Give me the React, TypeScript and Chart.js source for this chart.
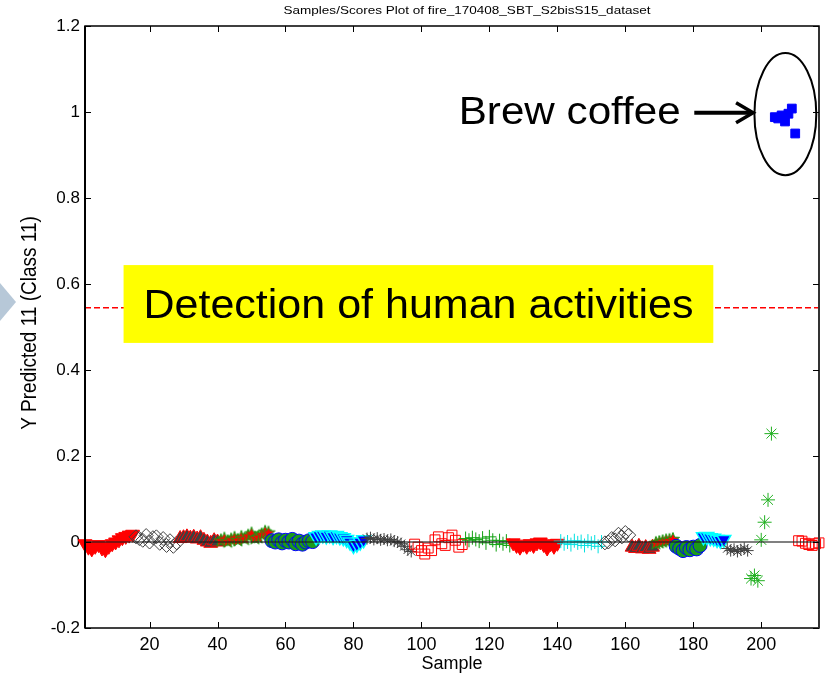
import React, { useEffect, useRef } from 'react';
import { Chart, registerables } from 'chart.js';

Chart.register(...registerables);

// ---------- text ----------
const TITLE = 'Samples/Scores Plot of fire_170408_SBT_S2bisS15_dataset';
const X_LABEL = 'Sample';
const Y_LABEL = 'Y Predicted 11 (Class 11)';
const BOX_TEXT = 'Detection of human activities';
const COFFEE_TEXT = 'Brew coffee';

// ---------- axes ----------
const X_MIN = 1;
const X_MAX = 217;
const Y_MIN = -0.2;
const Y_MAX = 1.2;
const X_TICKS = [20, 40, 60, 80, 100, 120, 140, 160, 180, 200];
const Y_TICKS = [-0.2, 0, 0.2, 0.4, 0.6, 0.8, 1, 1.2];
const THRESHOLD = 0.545;

// ---------- data: first sample of each class block ----------
const GROUP_STARTS = [1, 16, 29, 41, 56, 69, 84, 98, 113, 127, 141, 154, 162, 169, 175, 183, 190, 197, 204, 211];

// ---------- data: Y predicted values per block ----------
const g01 = [-0.004, -0.012, -0.016, -0.01, -0.006, -0.014, -0.018, -0.01, -0.004, 0.0, 0.005, 0.01, 0.013, 0.016, 0.018];
const g02 = [0.012, 0.008, 0.004, 0.015, 0.0, 0.01, 0.012, -0.003, 0.008, -0.008, 0.003, -0.01, -0.002];
const g03 = [0.008, 0.01, 0.012, 0.009, 0.011, 0.007, 0.01, 0.004, 0.0, -0.003, 0.003, 0.0];
const g04 = [0.004, 0.008, 0.002, 0.006, 0.01, 0.005, 0.012, 0.008, 0.015, 0.02, 0.01, 0.012, 0.018, 0.024, 0.022];
const g05 = [0.003, 0.0, 0.005, -0.002, 0.004, 0.0, 0.006, -0.004, 0.002, -0.005, 0.0, 0.003, 0.001];
const g06 = [0.012, 0.015, 0.016, 0.014, 0.016, 0.013, 0.015, 0.012, 0.01, 0.006, 0.0, -0.008, -0.005, 0.0, 0.005];
const g07 = [0.008, 0.01, 0.006, 0.009, 0.005, 0.007, 0.004, 0.006, 0.002, 0.0, -0.004, -0.01, -0.018, -0.022];
const g08 = [-0.005, -0.012, -0.02, -0.028, -0.014, -0.02, 0.005, 0.012, -0.004, -0.008, 0.01, 0.016, 0.004, -0.012, -0.006];
const g09 = [0.008, 0.004, 0.01, 0.006, 0.002, 0.009, -0.002, 0.012, 0.004, -0.006, 0.003, -0.004, 0.002, -0.008];
const g10 = [-0.002, -0.008, -0.012, -0.005, -0.01, -0.004, -0.008, -0.002, 0.0, -0.006, -0.014, -0.004, -0.01, -0.003];
const g11 = [0.002, -0.004, 0.0, -0.006, 0.003, -0.002, 0.001, -0.008, 0.002, -0.003, 0.0, -0.01, 0.0];
const g12 = [-0.002, 0.0, 0.008, 0.005, 0.018, 0.012, 0.022, 0.016];
const g13 = [-0.012, -0.015, -0.01, -0.016, -0.013, -0.017, -0.012];
const g14 = [-0.002, 0.0, 0.002, 0.004, 0.005, 0.007];
const g15 = [-0.01, -0.015, -0.02, -0.013, -0.018, -0.012, -0.016, -0.008];
const g16 = [0.012, 0.013, 0.01, 0.009, 0.006, 0.004, 0.006];
const g17 = [-0.015, -0.02, -0.017, -0.022, -0.018, -0.015, -0.02];
const g18 = [-0.085, -0.078, -0.09, 0.005, 0.046, 0.098, 0.252];
const g19 = [0.988, 0.985, 0.992, 0.978, 0.996, 1.008, 0.95];
const g20 = [0.003, 0.002, -0.003, -0.006, -0.008, -0.004, -0.002];

const GROUP_VALUES = [g01, g02, g03, g04, g05, g06, g07, g08, g09, g10, g11, g12, g13, g14, g15, g16, g17, g18, g19, g20];

// ---------- annotation anchors (data units) ----------
const BOX_X = [12.35, 185.9];
const BOX_Y = [0.463, 0.644];
const COFFEE_CENTER = [207.1, 0.995];
const COFFEE_RADII = [9.1, 0.142];
const ARROW_X = [180.3, 197.6];
const ARROW_Y = 0.998;
const COFFEE_TEXT_RIGHT = 176.3;
const COFFEE_TEXT_BASE = 0.971;

const FONT = '"Liberation Sans", Arial, Helvetica, sans-serif';

function makePentagram(): HTMLCanvasElement {
  const c = document.createElement('canvas');
  c.width = 16;
  c.height = 16;
  const g = c.getContext('2d')!;
  const cx = 8, cy = 8.5, R = 7, r = 2.9;
  g.beginPath();
  for (let i = 0; i < 10; i++) {
    const ang = -Math.PI / 2 + (i * Math.PI) / 5;
    const rr = i % 2 === 0 ? R : r;
    const px = cx + rr * Math.cos(ang);
    const py = cy + rr * Math.sin(ang);
    if (i === 0) g.moveTo(px, py); else g.lineTo(px, py);
  }
  g.closePath();
  g.fillStyle = '#ff0000';
  g.fill();
  g.strokeStyle = '#10a010';
  g.lineWidth = 1;
  g.stroke();
  return c;
}

type Sty = { pointStyle: any; bg: string; border: string; radius: number; rotation?: number; bw?: number };

function styles(): Sty[] {
  const pent = makePentagram();
  const redDown: Sty = { pointStyle: 'triangle', bg: '#ff0000', border: '#ff0000', radius: 8, rotation: 180 };
  const grayDiamond: Sty = { pointStyle: 'rectRot', bg: 'rgba(255,255,255,0)', border: '#404040', radius: 7 };
  const grayUp: Sty = { pointStyle: 'triangle', bg: '#404040', border: '#ff0000', radius: 8 };
  const pentagram: Sty = { pointStyle: pent, bg: '#ff0000', border: '#10a010', radius: 7 };
  const greenCircle: Sty = { pointStyle: 'circle', bg: '#1a9a1a', border: '#0000ff', radius: 7 };
  const blueDown: Sty = { pointStyle: 'triangle', bg: '#0000ff', border: '#00ffff', radius: 8, rotation: 180, bw: 1.5 };
  const grayStar: Sty = { pointStyle: 'star', bg: '#404040', border: '#404040', radius: 6 };
  const redSquare: Sty = { pointStyle: 'rect', bg: 'rgba(255,255,255,0)', border: '#ff0000', radius: 7 };
  const greenPlus: Sty = { pointStyle: 'cross', bg: '#10a010', border: '#10a010', radius: 7 };
  const cyanPlus: Sty = { pointStyle: 'cross', bg: '#00e0e0', border: '#00e0e0', radius: 7 };
  const greenStar: Sty = { pointStyle: 'star', bg: '#20b020', border: '#20b020', radius: 7 };
  const blueSquare: Sty = { pointStyle: 'rect', bg: '#0000ff', border: '#0000ff', radius: 6.2 };
  return [
    redDown, grayDiamond, grayUp, pentagram, greenCircle, blueDown, grayStar, redSquare, greenPlus, redDown,
    cyanPlus, grayDiamond, grayUp, pentagram, greenCircle, blueDown, grayStar, greenStar, blueSquare, redSquare,
  ];
}

function drawScaledText(ctx: CanvasRenderingContext2D, text: string, x: number, y: number, font: string,
  align: CanvasTextAlign, targetWidth?: number, rotate?: number, sy = 1) {
  ctx.save();
  ctx.font = font;
  const w = ctx.measureText(text).width;
  const sx = targetWidth ? targetWidth / w : 1;
  ctx.translate(x, y);
  if (rotate) ctx.rotate(rotate);
  ctx.scale(sx, sy);
  ctx.textAlign = align;
  ctx.textBaseline = 'alphabetic';
  ctx.fillStyle = '#000';
  ctx.fillText(text, 0, 0);
  ctx.restore();
}

const overlay = {
  id: 'overlay',
  afterDatasetsDraw(chart: any) {
    const { ctx, chartArea: a, scales } = chart;
    const x = scales.x, y = scales.y;
    ctx.save();
    // zero line
    const y0 = y.getPixelForValue(0);
    ctx.strokeStyle = 'rgba(30,30,30,0.75)';
    ctx.lineWidth = 1.5;
    ctx.beginPath();
    ctx.moveTo(a.left, y0);
    ctx.lineTo(a.right, y0);
    ctx.stroke();
    // threshold
    const yt = y.getPixelForValue(THRESHOLD);
    ctx.strokeStyle = '#ff0000';
    ctx.lineWidth = 1.5;
    ctx.setLineDash([6, 3]);
    ctx.beginPath();
    ctx.moveTo(a.left, yt);
    ctx.lineTo(a.right, yt);
    ctx.stroke();
    ctx.setLineDash([]);
    // yellow box
    const bx0 = x.getPixelForValue(BOX_X[0]), bx1 = x.getPixelForValue(BOX_X[1]);
    const by0 = y.getPixelForValue(BOX_Y[1]), by1 = y.getPixelForValue(BOX_Y[0]);
    ctx.fillStyle = '#ffff00';
    ctx.fillRect(bx0, by0, bx1 - bx0, by1 - by0);
    drawScaledText(ctx, BOX_TEXT, (bx0 + bx1) / 2, (by0 + by1) / 2 + 14, `40px ${FONT}`, 'center', 550);
    // coffee ellipse
    const ex = x.getPixelForValue(COFFEE_CENTER[0]);
    const ey = y.getPixelForValue(COFFEE_CENTER[1]);
    const rx = x.getPixelForValue(COFFEE_CENTER[0] + COFFEE_RADII[0]) - ex;
    const ry = ey - y.getPixelForValue(COFFEE_CENTER[1] + COFFEE_RADII[1]);
    ctx.strokeStyle = '#000';
    ctx.lineWidth = 2;
    ctx.beginPath();
    ctx.ellipse(ex, ey, rx, ry, 0, 0, Math.PI * 2);
    ctx.stroke();
    // arrow
    const ax0 = x.getPixelForValue(ARROW_X[0]), ax1 = x.getPixelForValue(ARROW_X[1]);
    const ay = y.getPixelForValue(ARROW_Y);
    ctx.lineWidth = 4;
    ctx.lineCap = 'butt';
    ctx.beginPath();
    ctx.moveTo(ax0, ay);
    ctx.lineTo(ax1 - 3, ay);
    ctx.stroke();
    ctx.lineWidth = 3.5;
    ctx.lineJoin = 'miter';
    ctx.beginPath();
    ctx.moveTo(ax1 - 17, ay - 10);
    ctx.lineTo(ax1, ay);
    ctx.lineTo(ax1 - 17, ay + 10);
    ctx.stroke();
    // coffee text
    drawScaledText(ctx, COFFEE_TEXT, x.getPixelForValue(COFFEE_TEXT_RIGHT), y.getPixelForValue(COFFEE_TEXT_BASE),
      `38px ${FONT}`, 'right', 222);
    ctx.restore();
  },
  afterDraw(chart: any) {
    const { ctx, chartArea: a, scales } = chart;
    const x = scales.x, y = scales.y;
    ctx.save();
    // frame
    ctx.strokeStyle = '#000';
    ctx.lineWidth = 1.5;
    ctx.strokeRect(a.left, a.top, a.right - a.left, a.bottom - a.top);
    ctx.fillStyle = '#000';
    ctx.fillRect(a.left - 1, a.top, 2, a.bottom - a.top);
    ctx.fillStyle = '#333';
    ctx.fillRect(a.right - 1, a.top, 2, a.bottom - a.top);
    // inward ticks
    ctx.lineWidth = 1;
    ctx.strokeStyle = '#000';
    ctx.beginPath();
    X_TICKS.forEach((v) => {
      const px = Math.round(x.getPixelForValue(v)) + 0.5;
      ctx.moveTo(px, a.bottom);
      ctx.lineTo(px, a.bottom - 6);
      ctx.moveTo(px, a.top);
      ctx.lineTo(px, a.top + 6);
    });
    Y_TICKS.forEach((v) => {
      const py = Math.round(y.getPixelForValue(v)) + 0.5;
      ctx.moveTo(a.left, py);
      ctx.lineTo(a.left + 6, py);
      ctx.moveTo(a.right, py);
      ctx.lineTo(a.right - 6, py);
    });
    ctx.stroke();
    // titles
    drawScaledText(ctx, TITLE, 467, 14, `10.5px ${FONT}`, 'center', 367);
    drawScaledText(ctx, X_LABEL, (a.left + a.right) / 2, 669, `18px ${FONT}`, 'center');
    drawScaledText(ctx, Y_LABEL, 36, 323, `19px ${FONT}`, 'center', undefined, -Math.PI / 2, 1.15);
    // slide decoration at the left edge
    ctx.fillStyle = '#b7c8d8';
    ctx.beginPath();
    ctx.moveTo(0, 283);
    ctx.lineTo(16, 302);
    ctx.lineTo(0, 321);
    ctx.closePath();
    ctx.fill();
    ctx.restore();
  },
};

export default function App() {
  const ref = useRef<HTMLCanvasElement | null>(null);

  useEffect(() => {
    document.body.style.margin = '0';
    const canvas = ref.current;
    if (!canvas) return;
    const sty = styles();
    const datasets = GROUP_VALUES.map((vals, gi) => {
      const s = sty[gi];
      return {
        label: `Class block ${gi + 1}`,
        data: vals.map((v, i) => ({ x: GROUP_STARTS[gi] + i, y: v })),
        pointStyle: s.pointStyle,
        pointRadius: s.radius,
        pointHoverRadius: s.radius,
        pointRotation: s.rotation || 0,
        backgroundColor: s.bg,
        borderColor: s.border,
        pointBorderWidth: s.bw || 1,
        borderWidth: s.bw || 1,
        showLine: false,
        clip: false as any,
        order: -gi,
      };
    });
    const chart = new Chart(canvas, {
      type: 'scatter',
      data: { datasets },
      options: {
        animation: false,
        responsive: false,
        devicePixelRatio: 1,
        layout: { padding: { left: 0, right: 10, top: 26, bottom: 0 } },
        plugins: { legend: { display: false }, tooltip: { enabled: false }, title: { display: false } },
        scales: {
          x: {
            type: 'linear',
            min: X_MIN,
            max: X_MAX,
            grid: { display: false, drawTicks: false },
            border: { display: false },
            ticks: {
              padding: 6,
              color: '#000',
              font: { family: FONT, size: 18 },
              maxRotation: 0,
              autoSkip: false,
            },
            afterBuildTicks: (s: any) => { s.ticks = X_TICKS.map((v) => ({ value: v })); },
            afterFit: (s: any) => { s.height = 48; },
          },
          y: {
            type: 'linear',
            min: Y_MIN,
            max: Y_MAX,
            grid: { display: false, drawTicks: false },
            border: { display: false },
            ticks: {
              padding: 5,
              color: '#000',
              font: { family: FONT, size: 17 },
              autoSkip: false,
              callback: (v: any) => String(Math.round(Number(v) * 10) / 10),
            },
            afterBuildTicks: (s: any) => { s.ticks = Y_TICKS.map((v) => ({ value: v })); },
            afterFit: (s: any) => { s.width = 85; },
          },
        },
      },
      plugins: [overlay],
    });
    return () => chart.destroy();
  }, []);

  return (
    <div style={{ position: 'absolute', left: 0, top: 0 }}>
      <canvas ref={ref} width={829} height={676} style={{ display: 'block' }} />
    </div>
  );
}
